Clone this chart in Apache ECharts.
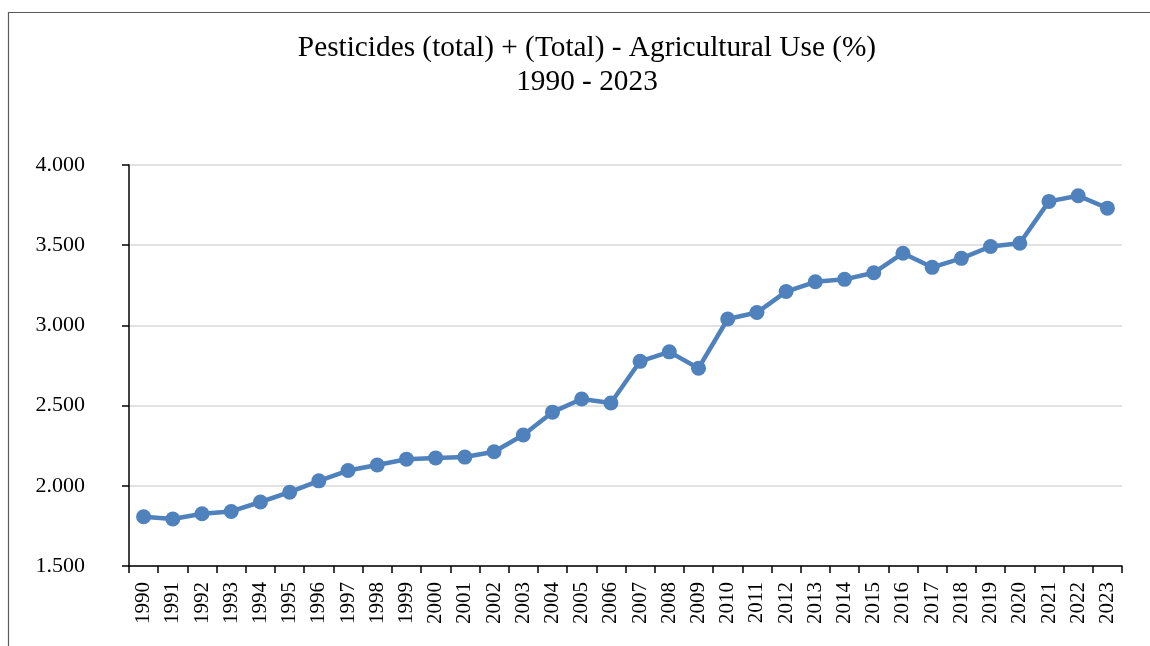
<!DOCTYPE html>
<html>
<head>
<meta charset="utf-8">
<script src="https://cdn.jsdelivr.net/npm/echarts@6/dist/echarts.min.js"></script>
<style>
  html, body { margin: 0; padding: 0; background: #fff; }
  #chart { width: 1150px; height: 646px; }
</style>
</head>
<body>
<div id="chart"></div>
<script>
// Pesticide agricultural use, yearly totals
const years = [
  '1990','1991','1992','1993','1994','1995','1996','1997','1998','1999',
  '2000','2001','2002','2003','2004','2005','2006','2007','2008','2009',
  '2010','2011','2012','2013','2014','2015','2016','2017','2018','2019',
  '2020','2021','2022','2023'
];
const usage = [
  1.807, 1.793, 1.826, 1.840, 1.899, 1.960, 2.031, 2.095, 2.130, 2.166,
  2.174, 2.179, 2.212, 2.317, 2.459, 2.541, 2.516, 2.776, 2.835, 2.733,
  3.040, 3.080, 3.211, 3.272, 3.287, 3.328, 3.450, 3.362, 3.418, 3.492,
  3.512, 3.773, 3.808, 3.731
];
const titleLines = ['Pesticides (total) + (Total) - Agricultural Use (%)', '1990 - 2023'];

const serif = '"Liberation Serif", "DejaVu Serif", serif';
const chart = echarts.init(document.getElementById('chart'), null, { renderer: 'canvas' });

chart.setOption({
  animation: false,
  backgroundColor: '#ffffff',
  title: {
    text: titleLines.join('\n'),
    left: 582,
    top: 26,
    textAlign: 'center',
    textStyle: {
      fontFamily: serif,
      fontSize: 29.3,
      fontWeight: 'normal',
      color: '#000',
      lineHeight: 34
    }
  },
  graphic: [{
    type: 'rect',
    shape: { x: 8.5, y: 12.5, width: 1300, height: 800 },
    style: { fill: 'none', stroke: '#595959', lineWidth: 1.2 },
    silent: true,
    z: -1
  }],
  grid: { left: 129, right: 28, top: 165, bottom: 80 },
  xAxis: {
    type: 'category',
    data: years,
    boundaryGap: true,
    axisLine: { lineStyle: { color: '#000', width: 1.5 } },
    axisTick: { show: true, alignWithLabel: false, length: 7, lineStyle: { color: '#000', width: 1.5 } },
    axisLabel: {
      rotate: 90,
      interval: 0,
      margin: 16,
      fontFamily: serif,
      fontSize: 21,
      color: '#000'
    },
    splitLine: { show: false }
  },
  yAxis: {
    type: 'value',
    min: 1.5,
    max: 4.0,
    interval: 0.5,
    axisLine: { show: true, lineStyle: { color: '#000', width: 1.5 } },
    axisTick: { show: true, length: 7, lineStyle: { color: '#000', width: 1.5 } },
    axisLabel: {
      margin: 44,
      fontFamily: serif,
      fontSize: 22,
      color: '#000',
      formatter: v => v.toFixed(3)
    },
    splitLine: { show: true, lineStyle: { color: '#d9d9d9', width: 1.5 } }
  },
  series: [{
    type: 'line',
    data: usage,
    symbol: 'circle',
    symbolSize: 15,
    itemStyle: { color: '#4f81bd' },
    lineStyle: { color: '#4f81bd', width: 4.5 }
  }]
});
</script>
</body>
</html>
